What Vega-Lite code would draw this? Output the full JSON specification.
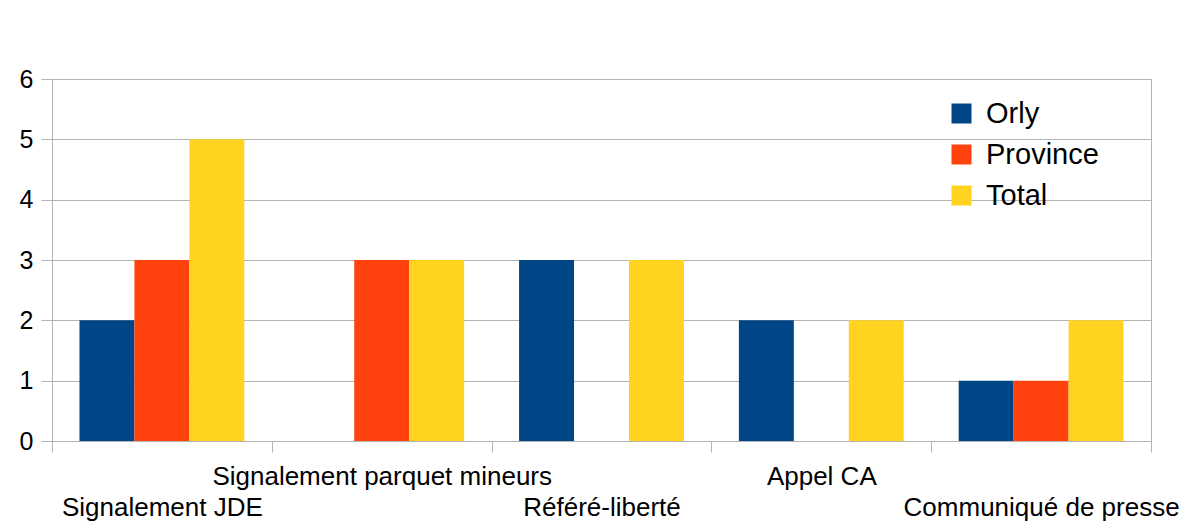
{
  "$schema": "https://vega.github.io/schema/vega-lite/v6.json",
  "autosize": {"type": "none"},
  "width": 1099,
  "height": 362,
  "padding": {"left": 52, "top": 79, "right": 29, "bottom": 82},
  "background": "white",
  "config": {
    "font": "Liberation Sans",
    "view": {"stroke": "#b3b3b3", "strokeWidth": 1}
  },
  "data": {
    "values": [
      {"cat": "Signalement JDE", "serie": "Orly", "v": 2},
      {"cat": "Signalement JDE", "serie": "Province", "v": 3},
      {"cat": "Signalement JDE", "serie": "Total", "v": 5},
      {"cat": "Signalement parquet mineurs", "serie": "Orly", "v": 0},
      {"cat": "Signalement parquet mineurs", "serie": "Province", "v": 3},
      {"cat": "Signalement parquet mineurs", "serie": "Total", "v": 3},
      {"cat": "Référé-liberté", "serie": "Orly", "v": 3},
      {"cat": "Référé-liberté", "serie": "Province", "v": 0},
      {"cat": "Référé-liberté", "serie": "Total", "v": 3},
      {"cat": "Appel CA", "serie": "Orly", "v": 2},
      {"cat": "Appel CA", "serie": "Province", "v": 0},
      {"cat": "Appel CA", "serie": "Total", "v": 2},
      {"cat": "Communiqué de presse", "serie": "Orly", "v": 1},
      {"cat": "Communiqué de presse", "serie": "Province", "v": 1},
      {"cat": "Communiqué de presse", "serie": "Total", "v": 2}
    ]
  },
  "mark": {"type": "bar"},
  "encoding": {
    "x": {
      "field": "cat",
      "type": "nominal",
      "sort": null,
      "scale": {"paddingInner": 0, "paddingOuter": 0},
      "axis": {
        "title": null,
        "labelAngle": 0,
        "labelFontSize": 26,
        "labelColor": "black",
        "labelPadding": 11,
        "labelBaseline": "top",
        "labelLineHeight": 31,
        "labelExpr": "indexof(['Signalement JDE','Référé-liberté','Communiqué de presse'], datum.value) >= 0 ? ['', datum.label] : datum.label",
        "tickBand": "extent",
        "tickSize": 11,
        "tickColor": "#b3b3b3",
        "domainColor": "#b3b3b3",
        "grid": false,
        "labelOverlap": false,
        "labelLimit": 0
      }
    },
    "xOffset": {
      "field": "serie",
      "type": "nominal",
      "scale": {"paddingInner": 0, "paddingOuter": 0.5}
    },
    "y": {
      "field": "v",
      "type": "quantitative",
      "scale": {"domain": [0, 6], "nice": false},
      "axis": {
        "title": null,
        "values": [0, 1, 2, 3, 4, 5, 6],
        "labelFontSize": 25,
        "labelColor": "black",
        "labelPadding": 8,
        "tickSize": 11,
        "tickColor": "#b3b3b3",
        "domainColor": "#b3b3b3",
        "gridColor": "#b3b3b3",
        "grid": true
      }
    },
    "color": {
      "field": "serie",
      "type": "nominal",
      "scale": {"domain": ["Orly", "Province", "Total"], "range": ["#004586", "#ff420e", "#ffd320"]},
      "legend": {
        "title": null,
        "orient": "none",
        "legendX": 895,
        "legendY": 20,
        "padding": 0,
        "symbolType": "square",
        "symbolSize": 400,
        "symbolStrokeWidth": 0,
        "symbolOpacity": 1,
        "labelFontSize": 29,
        "labelColor": "black",
        "labelOffset": 10,
        "rowPadding": 11,
        "labelLimit": 0
      }
    }
  }
}
